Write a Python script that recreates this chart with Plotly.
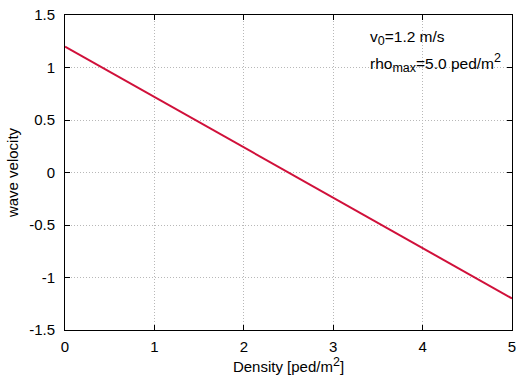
import plotly.graph_objects as go

density = [0, 5]
velocity = [1.2, -1.2]
xticks = [0, 1, 2, 3, 4, 5]
yticks = [-1.5, -1, -0.5, 0, 0.5, 1, 1.5]
ytick_labels = ["-1.5", "-1", "-0.5", "0", "0.5", "1", "1.5"]

FS = 15
SUB = "<span style='font-size:12.5px'>{}</span>"

fig = go.Figure()
fig.add_trace(go.Scatter(x=density, y=velocity, mode="lines",
                         line=dict(color="#d0103a", width=2), showlegend=False))

axis_common = dict(showline=True, linecolor="black", linewidth=1, mirror="ticks",
                   ticks="inside", ticklen=5, tickcolor="black",
                   showgrid=True, gridcolor="#b8b8b8", griddash="1px,2px", gridwidth=1,
                   zeroline=False, tickfont=dict(size=FS, color="black"),
                   automargin=False, ticklabeloverflow="allow")

fig.update_xaxes(range=[0, 5], tickvals=xticks, ticktext=[str(t) for t in xticks],
                 ticklabelstandoff=3,
                 title=dict(text="Density [ped/m<sup>" + SUB.format("2") + "</sup>]",
                            font=dict(size=FS, color="black"), standoff=3),
                 **axis_common)
fig.update_yaxes(range=[-1.5, 1.5], tickvals=yticks, ticktext=ytick_labels,
                 ticklabelstandoff=6,
                 title=dict(text="wave velocity", font=dict(size=FS, color="black"), standoff=6),
                 **axis_common)

fig.add_annotation(x=3.39, y=1.28, xref="x", yref="y", xanchor="left", yanchor="middle",
                   text="v<sub>" + SUB.format("0") + "</sub>=1.2 m/s", showarrow=False,
                   font=dict(size=15.5, color="black"))
fig.add_annotation(x=3.39, y=1.04, xref="x", yref="y", xanchor="left", yanchor="middle",
                   text="rho<sub>" + SUB.format("max") + "</sub>=5.0 ped/m<sup>" + SUB.format("2") + "</sup>",
                   showarrow=False, font=dict(size=15.5, color="black"))

fig.update_layout(width=518, height=379, margin=dict(l=65, r=6, t=15, b=49),
                  plot_bgcolor="white", paper_bgcolor="white",
                  font=dict(family="Liberation Sans, Arial, sans-serif", size=FS, color="black"))
fig.write_html("out.html", config={"displayModeBar": False},
               post_script="document.body.style.margin='0';document.body.style.overflow='hidden';")
